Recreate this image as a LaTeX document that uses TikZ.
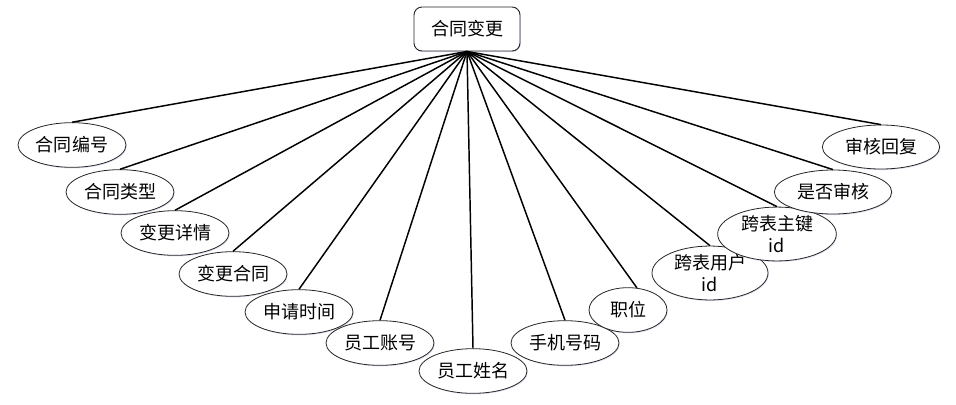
\documentclass[tikz,border=0pt]{standalone}
\usepackage{fontspec}
\setmainfont{Noto Sans CJK SC}
\usetikzlibrary{shapes.geometric,shadows}
\begin{document}
\begin{tikzpicture}[x=0.75pt,y=-0.75pt,
  attr/.style={ellipse,draw=black!85,line width=0.6pt,fill=white,
    minimum width=81pt,minimum height=33.5pt,inner sep=0pt,
    font=\fontsize{13.5pt}{17pt}\selectfont,align=center,
    drop shadow={shadow xshift=0.6pt,shadow yshift=-0.8pt,fill=blue!40!gray,opacity=0.18}},
  rootbox/.style={rectangle,rounded corners=6pt,draw=black!85,line width=0.7pt,fill=white,
    minimum width=79.5pt,minimum height=33pt,inner sep=0pt,
    font=\fontsize{13.5pt}{17pt}\selectfont,
    drop shadow={shadow xshift=0.6pt,shadow yshift=-0.8pt,fill=blue!40!gray,opacity=0.18}},
  link/.style={draw=black,line width=1.1pt}]
\useasboundingbox (0,0) rectangle (956,404);
\node[rootbox] (root) at (467,29) {合同变更};
\node[attr] (a1) at (72,145) {合同编号};
\node[attr] (a2) at (120,192) {合同类型};
\node[attr] (a3) at (175,233) {变更详情};
\node[attr] (a4) at (233,274) {变更合同};
\node[attr] (a5) at (299,312) {申请时间};
\node[attr] (a6) at (380,343) {员工账号};
\node[attr] (a7) at (473,371) {员工姓名};
\node[attr] (a8) at (565,343) {手机号码};
\node[attr,minimum width=58.5pt] (a9) at (628,310) {职位};
\node[attr,minimum width=87pt,minimum height=30.5pt] (a10) at (710,273) {跨表用户\\id};
\node[attr,minimum width=89pt,minimum height=31.5pt] (a11) at (777,234) {跨表主键\\id};
\node[attr,minimum width=88pt,minimum height=33pt] (a12) at (833,192) {是否审核};
\node[attr,minimum width=88pt,minimum height=33pt] (a13) at (881,147) {审核回复};
\foreach \n in {a1,a2,a3,a4,a5,a6,a7,a8,a10,a11,a12,a13}
  \draw[link] (root.south) -- (\n.north);
\draw[link] (root.south) -- (a9.68);
\end{tikzpicture}
\end{document}
